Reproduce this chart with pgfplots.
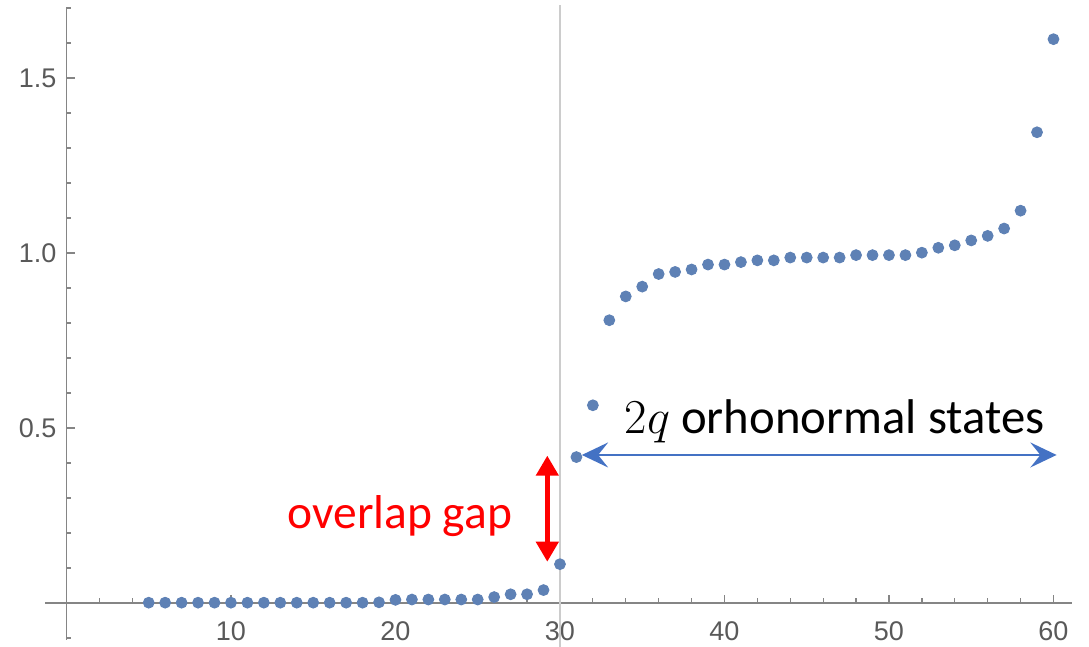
\documentclass[border=0pt]{standalone}
\usepackage{fix-cm}
\usepackage{fontspec}
\setmainfont{Carlito}
\newfontfamily\tickfont{Liberation Sans}
\usepackage{pgfplots}
\pgfplotsset{compat=1.18}
\usetikzlibrary{arrows.meta}
\definecolor{mma}{HTML}{5E81B5}
\definecolor{axgray}{HTML}{858585}
\definecolor{lblgray}{HTML}{595959}
\definecolor{offblue}{HTML}{4472C4}
\definecolor{vline}{HTML}{CCCCCC}
\begin{document}
\begin{tikzpicture}
\begin{axis}[
  x=6.58pt, y=140pt,
  axis lines=middle,
  axis line style={-, draw=axgray, line width=0.6pt},
  xmin=-1.3, xmax=61.15, ymin=-0.105, ymax=1.70,
  clip=false,
  xtick={10,20,30,40,50,60},
  xticklabels={10,20,30,40,50,60},
  minor xtick={2,4,6,8,12,14,16,18,22,24,26,28,32,34,36,38,42,44,46,48,52,54,56,58},
  ytick={0.5,1.0,1.5},
  yticklabels={0.5,1.0,1.5},
  minor ytick={-0.1,0.1,0.2,0.3,0.4,0.6,0.7,0.8,0.9,1.1,1.2,1.3,1.4,1.6,1.7},
  tick align=inside,
  major tick length=3.4pt, minor tick length=2pt,
  every tick/.style={draw=axgray, line width=0.5pt},
  tick label style={font=\tickfont\fontsize{10.8}{12}\selectfont, text=lblgray},
  xticklabel style={yshift=-4pt},
  yticklabel style={xshift=-0.5pt},
]
\draw[vline, line width=1.1pt] (axis cs:30,-0.125) -- (axis cs:30,1.71);
\addplot[only marks, mark=*, mark size=2.15pt, mark options={draw=mma, fill=mma}] coordinates {
(5,0.001) (6,0.001) (7,0.001) (8,0.001) (9,0.001) (10,0.001) (11,0.001) (12,0.001)
(13,0.001) (14,0.001) (15,0.001) (16,0.001) (17,0.001) (18,0.001) (19,0.002)
(20,0.009) (21,0.010) (22,0.010) (23,0.010) (24,0.010) (25,0.010)
(26,0.017) (27,0.025) (28,0.025) (29,0.037) (30,0.111)
(31,0.417) (32,0.565) (33,0.808) (34,0.876) (35,0.904) (36,0.940) (37,0.946)
(38,0.953) (39,0.967) (40,0.967) (41,0.974) (42,0.979) (43,0.979) (44,0.987)
(45,0.987) (46,0.987) (47,0.987) (48,0.994) (49,0.994) (50,0.994) (51,0.994)
(52,1.001) (53,1.015) (54,1.022) (55,1.036) (56,1.049) (57,1.070) (58,1.121)
(59,1.345) (60,1.611)
};
\draw[red, line width=1.8pt, {Triangle[width=8.8pt,length=8pt]}-{Triangle[width=8.8pt,length=8pt]}]
  (axis cs:29.23,0.421) -- (axis cs:29.23,0.118);
\draw[offblue, line width=0.8pt, {Stealth[width=10pt,length=10.5pt,inset=4pt]}-{Stealth[width=10pt,length=10.5pt,inset=4pt]}]
  (axis cs:31.33,0.423) -- (axis cs:60.19,0.423);
\node[anchor=base, text=red, font=\fontsize{19}{21}\selectfont, inner sep=0pt] at (axis cs:20.27,0.214) {overlap gap};
\node[anchor=base, text=black, font=\fontsize{19.5}{21}\selectfont, inner sep=0pt] at (axis cs:46.7,0.484) {\(2q\) orhonormal states};
\coordinate (bbl) at (axis cs:-4.04,-0.1229);
\coordinate (btr) at (axis cs:62.16,1.7229);
\end{axis}
\pgfresetboundingbox
\path[use as bounding box] (bbl) rectangle (btr);
\end{tikzpicture}
\end{document}
